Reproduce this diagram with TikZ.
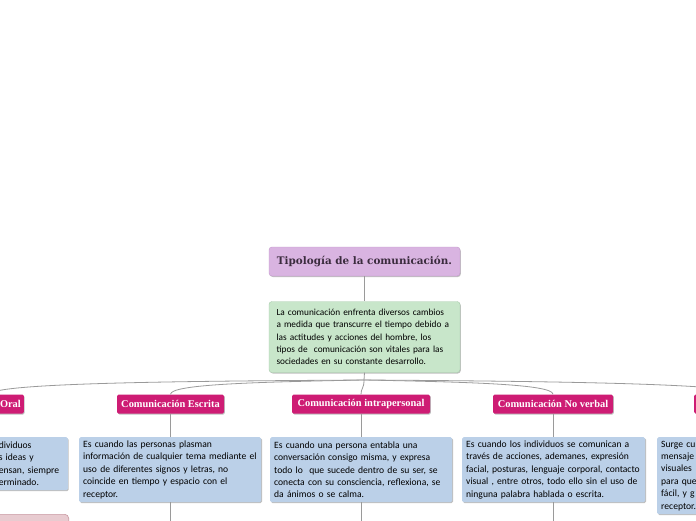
\documentclass[tikz,border=0pt]{standalone}
\usepackage{fontspec}
\setmainfont{Carlito}
\newfontfamily\titlefont{DejaVu Serif}
\newfontfamily\catfont{Liberation Serif}
\usetikzlibrary{shadows}
\definecolor{titlefill}{HTML}{D9B4E1}
\definecolor{titleborder}{HTML}{C49ACD}
\definecolor{titletext}{HTML}{3B2C3E}
\definecolor{greenfill}{HTML}{C8E6CA}
\definecolor{greenborder}{HTML}{A8CBAC}
\definecolor{bluefill}{HTML}{BBD0E8}
\definecolor{catfill}{HTML}{CE1C74}
\definecolor{pinkfill}{HTML}{E8CBD0}
\definecolor{pinkborder}{HTML}{C99AA3}
\definecolor{linegray}{HTML}{9A9A9A}
\begin{document}
\begin{tikzpicture}[x=1pt,y=-1pt,
  conn/.style={draw=linegray, line width=0.8pt},
  shad/.style={drop shadow={shadow xshift=0.8pt, shadow yshift=-1pt, opacity=0.25, fill=black}},
  titlebox/.style={rectangle, rounded corners=3pt, fill=titlefill, draw=titleborder, line width=0.4pt,
    minimum width=191pt, minimum height=29pt, inner sep=0pt, text=titletext,
    font=\titlefont\bfseries\fontsize{10.4}{12}\selectfont, shad},
  mainbox/.style={rectangle, rounded corners=3pt, fill=greenfill, draw=greenborder, line width=0.4pt,
    text width=182pt, inner xsep=4.5pt, minimum height=71pt, align=left,
    font=\fontsize{9.3}{12.2}\selectfont, shad},
  catbox/.style={rectangle, rounded corners=1.5pt, fill=catfill, text=white, inner xsep=3pt, inner ysep=0pt,
    minimum height=19pt, font=\catfont\bfseries\fontsize{10.4}{12}\selectfont, shad},
  descbox/.style={rectangle, rounded corners=1.5pt, fill=bluefill, inner xsep=4pt, inner ysep=2pt,
    align=left, font=\fontsize{9.6}{12.4}\selectfont, shad},
  pinkbox/.style={rectangle, rounded corners=4pt, fill=pinkfill, draw=pinkborder, line width=0.6pt}
]
\useasboundingbox (0,0) rectangle (696,520);
\clip (0,0) rectangle (696,520);
\fill[white] (0,0) rectangle (696,520);

% top
\node[titlebox] (title) at (364.5,261.5) {Tipología de la comunicación.};
\node[mainbox] (main) at (364.5,337) {\hspace*{3pt}La comunicación enfrenta diversos cambios\\\hspace*{3pt}a medida que transcurre el tiempo debido a\\\hspace*{3pt}las actitudes y acciones del hombre, los\\\hspace*{3pt}tipos de \ comunicación son vitales para las\\\hspace*{3pt}sociedades en su constante desarrollo.};

% categories
\node[catbox, anchor=east, text width=60pt, align=right] (oral) at (24,404) {Oral};
\node[catbox, minimum width=107pt] (esc) at (170.5,404) {Comunicación Escrita};
\node[catbox, minimum width=138pt] (intra) at (361,404) {Comunicación intrapersonal};
\node[catbox, minimum width=120pt] (nv) at (553,404) {Comunicación No verbal};
\node[catbox, anchor=west, minimum width=100pt] (vis) at (694,404) {};

% descriptions
\node[descbox, anchor=north east, text width=65pt, minimum height=53pt] (orald) at (68,437)
  {dividuos\\s ideas y\\ensan, siempre\\erminado.};
\node[descbox, anchor=north west, text width=174pt, minimum height=65pt] (escd) at (79,437)
  {Es cuando las personas plasman\\información de cualquier tema mediante el\\uso de diferentes signos y letras, no\\coincide en tiempo y espacio con el\\receptor.};
\node[descbox, anchor=north west, text width=174pt, minimum height=65pt] (intrad) at (270,437)
  {Es cuando una persona entabla una\\conversación consigo misma, y expresa\\todo lo \ que sucede dentro de su ser, se\\conecta con su consciencia, reflexiona, se\\da ánimos o se calma.};
\node[descbox, anchor=north west, text width=175pt, minimum height=65pt] (nvd) at (462,437)
  {Es cuando los individuos se comunican a\\través de acciones, ademanes, expresión\\facial, posturas, lenguaje corporal, contacto\\visual , entre otros, todo ello sin el uso de\\ninguna palabra hablada o escrita.};
\node[descbox, anchor=north west, text width=70pt, minimum height=77pt] (visd) at (657,437)
  {Surge cu\\mensaje\\visuales\\para que\\fácil, y g\\receptor.};

% bottom-left pink box
\node[pinkbox, anchor=north east, minimum width=100pt, minimum height=30pt] (pk) at (69,514) {};

% connectors
\coordinate (hub) at (364,380);
\coordinate (escend) at (170.5,530);
\coordinate (intraend) at (361,530);
\coordinate (nvend) at (553,530);
\draw[conn] (title.south) -- (main.north);
\draw[conn] (main.south) -- (hub);
\draw[conn] (hub) .. controls (220,381) and (-10,382) .. (oral.north);
\draw[conn] (hub) .. controls (260,382) and (170.5,384) .. (esc.north);
\draw[conn] (hub) .. controls (364,389) and (361,388) .. (intra.north);
\draw[conn] (hub) .. controls (465,382) and (553,384) .. (nv.north);
\draw[conn] (hub) .. controls (520,381) and (744,383) .. (vis.north);
\draw[conn] (esc.south) -- (esc.south |- escd.north);
\draw[conn] (intra.south) -- (intra.south |- intrad.north);
\draw[conn] (nv.south) -- (nv.south |- nvd.north);
\draw[conn] (esc.south |- escd.south) -- (escend);
\draw[conn] (intra.south |- intrad.south) -- (intraend);
\draw[conn] (nv.south |- nvd.south) -- (nvend);
\end{tikzpicture}
\end{document}
